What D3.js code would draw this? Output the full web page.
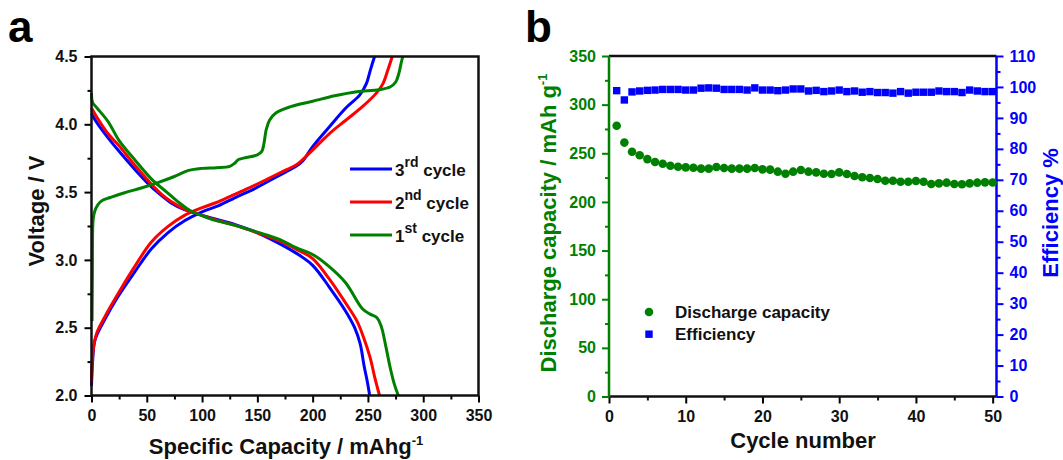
<!DOCTYPE html>
<html lang="en">
<head>
    <meta charset="UTF-8">
    <title>Capacity curves and cycling</title>
    <script src="https://cdn.jsdelivr.net/npm/d3@7/dist/d3.min.js"></script>
    <style>
        body { margin: 0; background: #fff; }
        text { font-family: "Liberation Sans", Arial, sans-serif; font-weight: bold; }
    </style>
</head>
<body>
<script>

    // ---- panel a : charge / discharge curves, [capacity mAh/g, voltage V]
    var charge1 = [[0.5, 2.55], [0.8, 2.9], [1, 3.2], [1.5, 3.3], [3, 3.36], [6, 3.41], [10, 3.44], [17, 3.46],
        [30, 3.495], [45, 3.53], [60, 3.57], [75, 3.615], [88, 3.66], [100, 3.675], [113, 3.68], [125, 3.69],
        [129, 3.71], [133, 3.74], [140, 3.755], [150, 3.775], [154, 3.8], [156, 3.86], [158, 3.96], [161, 4.03],
        [167, 4.085], [180, 4.13], [200, 4.17], [220, 4.21], [240, 4.24], [260, 4.255], [270, 4.275],
        [275, 4.31], [278, 4.376], [280, 4.45], [281.5, 4.5]];
    var discharge1 = [[0, 4.23], [1, 4.16], [5, 4.12], [15, 4.02], [25, 3.88], [40, 3.73], [55, 3.59], [68, 3.5],
        [78, 3.43], [88, 3.37], [97, 3.335], [110, 3.295], [130, 3.255], [150, 3.205], [170, 3.152], [185, 3.09],
        [200, 3.04], [215, 2.95], [230, 2.83], [245, 2.64], [252, 2.6], [258, 2.575], [262, 2.51], [266, 2.37],
        [270, 2.21], [274, 2.08], [277.5, 2.0]];
    var charge2 = [[0, 2.11], [1.6, 2.34], [4.7, 2.46], [12, 2.58], [24, 2.75], [39, 2.95], [54, 3.13], [69, 3.245],
        [84.5, 3.33], [100, 3.385], [115, 3.43], [130, 3.485], [145, 3.54], [160, 3.6], [175, 3.66], [185, 3.7],
        [191, 3.74], [200, 3.81], [215, 3.93], [230, 4.03], [245, 4.13], [257.6, 4.23], [263.6, 4.3], [268, 4.4],
        [272, 4.5]];
    var discharge2 = [[0, 4.12], [5, 4.05], [15, 3.93], [24, 3.85], [40, 3.69], [54, 3.56], [64, 3.48], [72, 3.43],
        [84, 3.375], [96, 3.34], [110, 3.3], [130, 3.255], [150, 3.2], [170, 3.14], [185, 3.08], [200, 3.01],
        [215, 2.86], [230, 2.68], [240, 2.55], [246, 2.43], [252, 2.28], [256, 2.14], [260.5, 2.0]];
    var charge3 = [[0, 2.07], [1, 2.25], [3.2, 2.41], [12, 2.56], [24, 2.73], [39, 2.91], [54, 3.08], [69, 3.2],
        [84.5, 3.29], [100, 3.355], [115, 3.4], [130, 3.46], [145, 3.515], [160, 3.58], [175, 3.645], [185, 3.69],
        [191, 3.73], [200, 3.835], [215, 3.98], [230, 4.12], [242.5, 4.215], [248.6, 4.3], [252.2, 4.4],
        [256, 4.5]];
    var discharge3 = [[0, 4.08], [5, 4.01], [15, 3.9], [24, 3.81], [40, 3.66], [54, 3.54], [64, 3.47], [72, 3.42],
        [84, 3.37], [99.5, 3.33], [110, 3.305], [130, 3.26], [150, 3.2], [170, 3.12], [185, 3.05], [200, 2.96],
        [215, 2.8], [230, 2.62], [238, 2.5], [243, 2.38], [246.5, 2.22], [249.5, 2.1], [251.6, 2.0]];

    var cycleNames = ["3", "2", "1"];
    var cycleSups = ["rd", "nd", "st"];
    var cycleColors = ["#0000ff", "#ff0000", "#008000"];

    // ---- panel b : cycling
    var cycles = d3.range(1, 51);
    var capacity = [278.3, 261, 251.6, 248, 244, 241, 239.3, 237.2, 236.2, 235.5,
        235.2, 234.2, 234.2, 235.9, 234.9, 234.2, 234.2, 234.2, 234.9, 233.5,
        233.2, 231.1, 229, 231.1, 232.8, 231.1, 230.4, 229, 228.7, 230.4,
        228.7, 226.6, 225.3, 224.6, 223.6, 221.8, 221.8, 220.8, 220.8, 221.5,
        220.8, 218.4, 219.1, 219.8, 218.4, 218.1, 219.1, 219.8, 220.1, 220];
    var efficiency = [98.8, 95.8, 98.4, 98.7, 98.9, 99.0, 99.2, 99.2, 99.2, 99.0,
        99.0, 99.6, 99.7, 99.6, 99.2, 99.2, 99.2, 99.0, 99.7, 99.0,
        99.0, 98.8, 99.0, 99.35, 99.35, 98.7, 98.9, 98.5, 98.7, 99.0,
        98.5, 98.7, 98.3, 98.5, 98.2, 98.2, 98.0, 98.5, 98.0, 98.3,
        98.3, 98.3, 98.7, 98.5, 98.5, 98.2, 99.0, 98.7, 98.5, 98.5];

    var w = 1063, h = 460;
    var svg = d3.select("body").append("svg").attr("width", w).attr("height", h);

    // panel letters
    svg.append("text").attr("x", 8).attr("y", 42).attr("font-size", 44).text("a");
    svg.append("text").attr("x", 525).attr("y", 42).attr("font-size", 44).text("b");

    // ================= panel a
    var xa = d3.scaleLinear().domain([0, 350]).range([91.5, 478.5]);
    var ya = d3.scaleLinear().domain([2, 4.5]).range([395.5, 56.5]);

    // minor ticks first (outward)
    svg.append("g").attr("transform", "translate(0,395.5)")
        .call(d3.axisBottom(xa).tickValues(d3.range(25, 350, 50)).tickSize(4).tickFormat(""))
        .call(function (g) { g.select(".domain").remove(); g.selectAll("line").attr("stroke-width", 2); });
    svg.append("g").attr("transform", "translate(91.5,0)")
        .call(d3.axisLeft(ya).tickValues([2.25, 2.75, 3.25, 3.75, 4.25]).tickSize(4).tickFormat(""))
        .call(function (g) { g.select(".domain").remove(); g.selectAll("line").attr("stroke-width", 2); });

    var axA = svg.append("g").attr("transform", "translate(0,395.5)")
        .call(d3.axisBottom(xa).tickValues(d3.range(0, 351, 50)).tickSize(7).tickPadding(7).tickFormat(d3.format("d")));
    var ayA = svg.append("g").attr("transform", "translate(91.5,0)")
        .call(d3.axisLeft(ya).tickValues([2, 2.5, 3, 3.5, 4, 4.5]).tickSize(7).tickPadding(7).tickFormat(d3.format(".1f")));
    [axA, ayA].forEach(function (g) {
        g.select(".domain").remove();
        g.selectAll("line").attr("stroke-width", 2);
        g.selectAll("text").attr("font-size", 16).attr("fill", "#111");
    });

    var line = d3.line()
        .x(function (d) { return xa(d[0]); })
        .y(function (d) { return ya(d[1]); })
        .curve(d3.curveCatmullRom.alpha(0.5));

    var curves = [
        {data: charge3, c: 0}, {data: discharge3, c: 0},
        {data: charge2, c: 1}, {data: discharge2, c: 1},
        {data: charge1, c: 2}, {data: discharge1, c: 2}
    ];
    svg.append("g").selectAll("path")
        .data(curves)
        .enter()
        .append("path")
        .attr("d", function (d) { return line(d.data); })
        .attr("fill", "none")
        .attr("stroke", function (d) { return cycleColors[d.c]; })
        .attr("stroke-width", 3)
        .attr("stroke-linejoin", "round");

    // frame
    svg.append("rect")
        .attr("x", 91.5).attr("y", 56.5)
        .attr("width", 387).attr("height", 339)
        .attr("fill", "none").attr("stroke", "#111").attr("stroke-width", 2.5);

    // legend a
    var legA = svg.append("g").selectAll("g")
        .data(cycleNames)
        .enter()
        .append("g")
        .attr("transform", function (d, i) { return "translate(0," + (169 + i * 33) + ")"; });
    legA.append("line")
        .attr("x1", 350).attr("x2", 392)
        .attr("stroke", function (d, i) { return cycleColors[i]; })
        .attr("stroke-width", 3);
    var legText = legA.append("text")
        .attr("x", 395).attr("y", 7)
        .attr("font-size", 17).attr("fill", "#111");
    legText.append("tspan").text(function (d) { return d; });
    legText.append("tspan").attr("dy", -9).attr("font-size", 14).text(function (d, i) { return cycleSups[i]; });
    legText.append("tspan").attr("dy", 9).text(" cycle");

    // axis titles a
    svg.append("text")
        .attr("transform", "translate(44,211) rotate(-90)")
        .attr("text-anchor", "middle").attr("font-size", 22).attr("fill", "#111")
        .text("Voltage / V");
    var xt = svg.append("text")
        .attr("x", 286).attr("y", 454)
        .attr("text-anchor", "middle").attr("font-size", 22).attr("fill", "#111");
    xt.append("tspan").text("Specific Capacity / mAhg");
    xt.append("tspan").attr("dy", -9).attr("font-size", 13).text("-1");

    // ================= panel b
    var xb = d3.scaleLinear().domain([0, 50.5]).range([609, 996.5]);
    var yb = d3.scaleLinear().domain([0, 350]).range([396.5, 56]);
    var yb2 = d3.scaleLinear().domain([0, 110]).range([396.5, 56]);
    var green = "#008000", blue = "#0000ff";

    function minor(g, color) {
        g.select(".domain").remove();
        g.selectAll("line").attr("stroke-width", 2).attr("stroke", color);
    }
    svg.append("g").attr("transform", "translate(0,396.5)")
        .call(d3.axisBottom(xb).tickValues(d3.range(5, 50, 10)).tickSize(4).tickFormat(""))
        .call(minor, "#111");
    svg.append("g").attr("transform", "translate(609,0)")
        .call(d3.axisLeft(yb).tickValues(d3.range(25, 350, 50)).tickSize(4).tickFormat(""))
        .call(minor, green);
    svg.append("g").attr("transform", "translate(996.5,0)")
        .call(d3.axisRight(yb2).tickValues(d3.range(5, 110, 10)).tickSize(4).tickFormat(""))
        .call(minor, blue);

    var axB = svg.append("g").attr("transform", "translate(0,396.5)")
        .call(d3.axisBottom(xb).tickValues(d3.range(0, 51, 10)).tickSize(7).tickPadding(7));
    axB.select(".domain").remove();
    axB.selectAll("line").attr("stroke-width", 2);
    axB.selectAll("text").attr("font-size", 16).attr("fill", "#111");

    var ayB = svg.append("g").attr("transform", "translate(609,0)")
        .call(d3.axisLeft(yb).tickValues(d3.range(0, 351, 50)).tickSize(7).tickPadding(6));
    ayB.select(".domain").remove();
    ayB.selectAll("line").attr("stroke-width", 2).attr("stroke", green);
    ayB.selectAll("text").attr("font-size", 16).attr("fill", green);

    var ayB2 = svg.append("g").attr("transform", "translate(996.5,0)")
        .call(d3.axisRight(yb2).tickValues(d3.range(0, 111, 10)).tickSize(7).tickPadding(6));
    ayB2.select(".domain").remove();
    ayB2.selectAll("line").attr("stroke-width", 2).attr("stroke", blue);
    ayB2.selectAll("text").attr("font-size", 16).attr("fill", blue);

    // frame lines b
    svg.append("line").attr("x1", 609).attr("x2", 996.5).attr("y1", 56).attr("y2", 56)
        .attr("stroke", "#111").attr("stroke-width", 2.5);
    svg.append("line").attr("x1", 609).attr("x2", 996.5).attr("y1", 396.5).attr("y2", 396.5)
        .attr("stroke", "#111").attr("stroke-width", 2.5);
    svg.append("line").attr("x1", 609).attr("x2", 609).attr("y1", 56).attr("y2", 397.5)
        .attr("stroke", green).attr("stroke-width", 2.5);
    svg.append("line").attr("x1", 996.5).attr("x2", 996.5).attr("y1", 56).attr("y2", 397.5)
        .attr("stroke", blue).attr("stroke-width", 2.5);

    // points
    svg.append("g").selectAll("circle")
        .data(capacity)
        .enter()
        .append("circle")
        .attr("cx", function (d, i) { return xb(cycles[i]); })
        .attr("cy", function (d) { return yb(d); })
        .attr("r", 4.3)
        .attr("fill", green);

    svg.append("g").selectAll("rect")
        .data(efficiency)
        .enter()
        .append("rect")
        .attr("x", function (d, i) { return xb(cycles[i]) - 3.7; })
        .attr("y", function (d) { return yb2(d) - 3.7; })
        .attr("width", 7.4).attr("height", 7.4)
        .attr("fill", blue);

    // legend b
    svg.append("circle").attr("cx", 649).attr("cy", 312).attr("r", 4.3).attr("fill", green);
    svg.append("rect").attr("x", 645.3).attr("y", 330.5).attr("width", 7.4).attr("height", 7.4).attr("fill", blue);
    svg.append("text").attr("x", 675).attr("y", 318).attr("font-size", 17).attr("fill", "#111").text("Discharge capacity");
    svg.append("text").attr("x", 675).attr("y", 340).attr("font-size", 17).attr("fill", "#111").text("Efficiency");

    // axis titles b
    var yt = svg.append("text")
        .attr("transform", "translate(556,223) rotate(-90)")
        .attr("text-anchor", "middle").attr("font-size", 22).attr("fill", green);
    yt.append("tspan").text("Discharge capacity / mAh g");
    yt.append("tspan").attr("dy", -9).attr("font-size", 13).text("-1");

    svg.append("text")
        .attr("transform", "translate(1058,213) rotate(-90)")
        .attr("text-anchor", "middle").attr("font-size", 22).attr("fill", blue)
        .text("Efficiency %");

    svg.append("text")
        .attr("x", 803).attr("y", 448)
        .attr("text-anchor", "middle").attr("font-size", 22).attr("fill", "#111")
        .text("Cycle number");

</script>
</body>
</html>
